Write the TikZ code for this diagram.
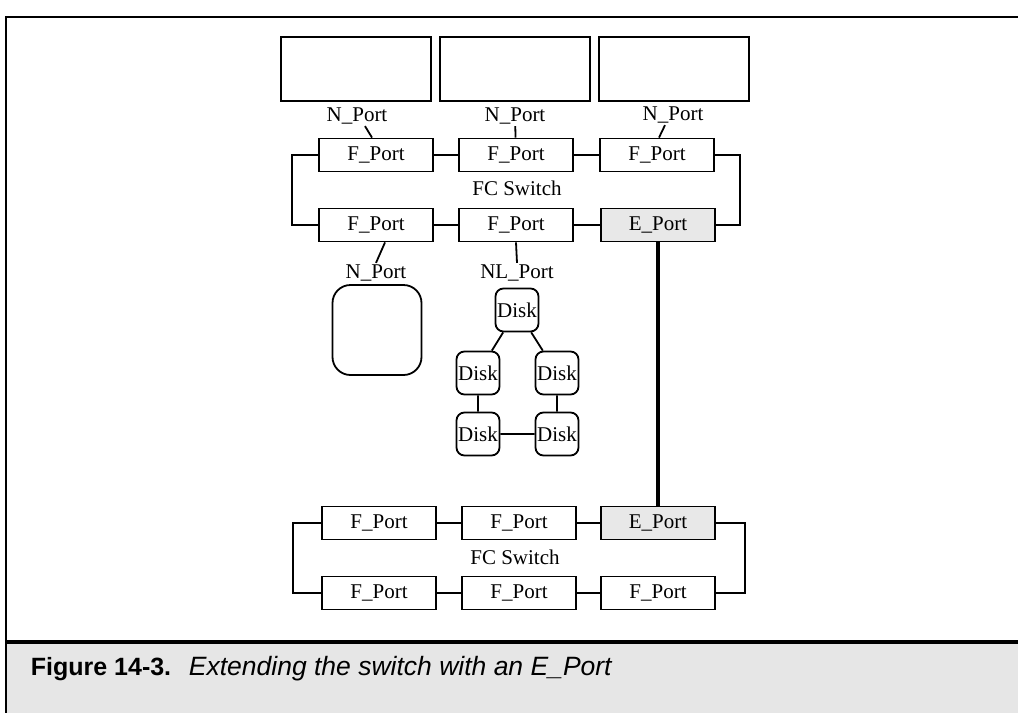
\documentclass[tikz,border=0pt]{standalone}
\usepackage{fontspec}
\setmainfont{Liberation Serif}
\newfontfamily\capfont{Liberation Sans}
\usetikzlibrary{positioning}
\definecolor{portgray}{RGB}{232,232,232}
\definecolor{bandgray}{RGB}{230,230,230}

\begin{document}
\begin{tikzpicture}[x=1pt,y=-1pt,line width=1.8pt,
    font=\fontsize{21}{23}\selectfont,
    host/.style={draw,minimum width=150pt,minimum height=64pt,inner sep=0pt},
    port/.style={draw,minimum width=114pt,minimum height=33pt,inner sep=0pt},
    eport/.style={port,fill=portgray},
    tag/.style={inner sep=1pt},
    disk/.style={draw,rounded corners=8pt,minimum size=43pt,inner sep=0pt},
    capt/.style={anchor=base west,inner sep=0pt}]
    \useasboundingbox (0,0) rectangle (1018,713);
    % frame and caption band
    \fill[bandgray] (6,644) rectangle (1018,713);
    \draw[line width=1.8pt] (1018,17) -- (6,17) -- (6,713);
    \draw[line width=4.5pt] (6,642) -- (1018,642);
    % hosts
    \foreach \n/\x in {1/356,2/515,3/674}{
        \node[host] (h\n) at (\x,69) {};
    }
    \node[tag] (n1) at (357,116) {N\_Port};
    \node[tag] (n2) at (515,116) {N\_Port};
    \node[tag] (n3) at (673,115) {N\_Port};
    % first switch
    \foreach \n/\x in {1/376,2/516,3/657}{
        \node[port] (a\n) at (\x,155) {F\_Port};
    }
    \node[port] (b1) at (376,225) {F\_Port};
    \node[port] (b2) at (516,225) {F\_Port};
    \node[eport] (b3) at (658,225) {E\_Port};
    \node[tag] (sw1) at (517,188) {FC Switch};
    \draw (a1) -- (a2) (a2) -- (a3) (b1) -- (b2) (b2) -- (b3);
    \draw (a1.west) -- ++(-26,0) |- (b1.west);
    \draw (a3.east) -- ++(25,0) |- (b3.east);
    \draw ([xshift=8pt]n1.south) -- ([xshift=-4pt]a1.north);
    \draw (n2) -- (a2);
    \draw ([xshift=-8pt]n3.south) -- ([xshift=2pt]a3.north);
    % attached devices
    \node[tag] (n4) at (376,273) {N\_Port};
    \node[tag] (nl) at (517,273) {NL\_Port};
    \draw ([xshift=9pt]b1.south) -- (n4.north);
    \draw (b2.south) -- (nl.north);
    \node[draw,rounded corners=18pt,minimum width=89pt,minimum height=90pt] (dev) at (377,330) {};
    % disk loop
    \foreach \n/\x/\y in {1/517/310,2/478/373,3/557/373,4/478/434,5/557/434}{
        \node[disk] (d\n) at (\x,\y) {Disk};
    }
    \draw (d1) -- (d2) (d1) -- (d3) (d2) -- (d4) (d3) -- (d5) (d4) -- (d5);
    % second switch
    \node[port] (c1) at (379,523) {F\_Port};
    \node[port] (c2) at (519,523) {F\_Port};
    \node[eport] (e1) at (658,523) {E\_Port};
    \foreach \n/\x in {4/379,5/519,6/658}{
        \node[port] (c\n) at (\x,593) {F\_Port};
    }
    \node[tag] (sw2) at (515,557) {FC Switch};
    \draw (c1) -- (c2) (c2) -- (e1) (c4) -- (c5) (c5) -- (c6);
    \draw (c1.west) -- ++(-28,0) |- (c4.west);
    \draw (e1.east) -- ++(29,0) |- (c6.east);
    % inter switch link
    \draw[line width=4pt] (b3.south) -- (e1.north);
    % caption
    \node[capt,font=\capfont\bfseries\fontsize{25}{28}\selectfont] (fig) at (30,675) {Figure 14-3.};
    \node[capt,font=\capfont\itshape\fontsize{26.5}{29}\selectfont] (cap) at (188,675) {Extending the switch with an E\_Port};
\end{tikzpicture}
\end{document}
